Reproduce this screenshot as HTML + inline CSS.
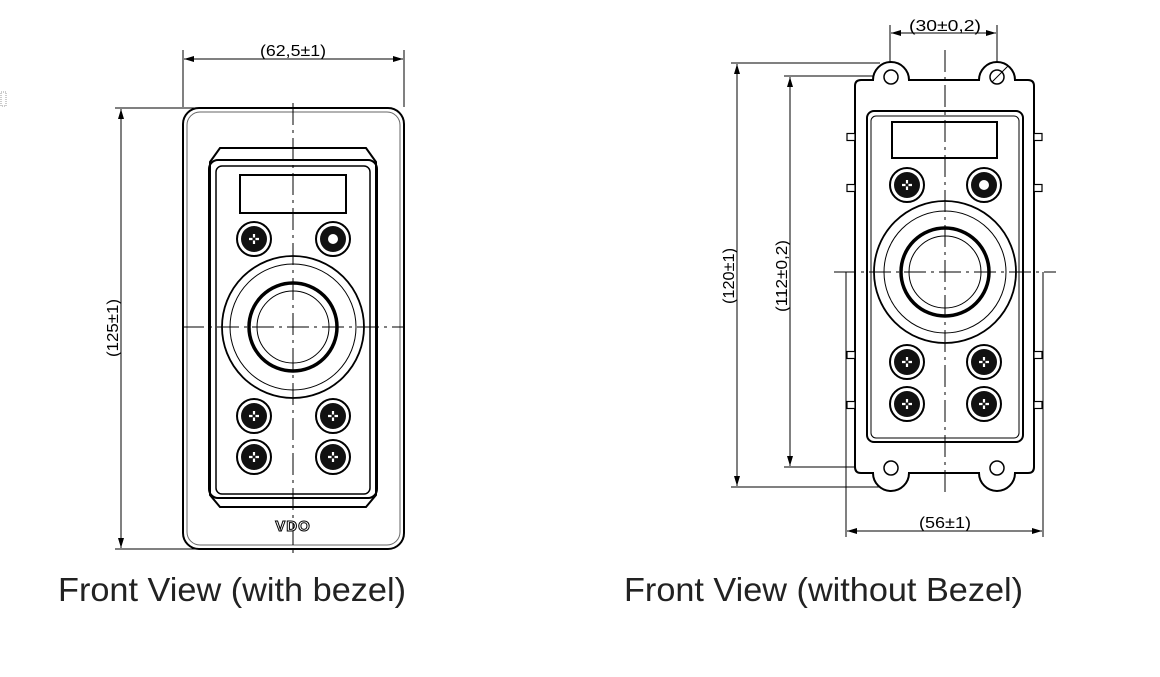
<!DOCTYPE html>
<html><head><meta charset="utf-8"><style>
html,body{margin:0;padding:0;background:#fff;}
svg{display:block}
text{font-family:"Liberation Sans",sans-serif;}
</style></head><body>
<svg width="1160" height="677" viewBox="0 0 1160 677" xmlns="http://www.w3.org/2000/svg">
<defs>
<marker id="a" viewBox="0 0 10 6" refX="10" refY="3" markerWidth="10" markerHeight="6" orient="auto-start-reverse" markerUnits="userSpaceOnUse"><path d="M0,0 L10,3 L0,6 z" fill="#000"/></marker>
<g id="btn"><circle r="17" fill="none" stroke="#000" stroke-width="2"/><circle r="13" fill="#111"/><path d="M-5,0h10M0,-5v10" stroke="#fff" stroke-width="2.2"/><path d="M-1.5,-1.5h3v3h-3z" fill="#111"/></g>
<g id="btnd"><circle r="17" fill="none" stroke="#000" stroke-width="2"/><circle r="13" fill="#111"/><circle r="5" fill="#fff"/></g>
<g id="tab"><rect x="0" y="-3.5" width="8" height="7" fill="#fff" stroke="#000" stroke-width="1.2"/></g>
</defs>
<rect x="1" y="92" width="5" height="14" fill="none" stroke="#999" stroke-width="1" stroke-dasharray="1,1"/>

<!-- LEFT -->
<g stroke="#000" fill="none">
<line x1="183" y1="50" x2="183" y2="107" stroke-width="1"/>
<line x1="404" y1="50" x2="404" y2="107" stroke-width="1"/>
<line x1="184" y1="59" x2="403" y2="59" stroke-width="1" marker-start="url(#a)" marker-end="url(#a)"/>
<line x1="115" y1="108" x2="200" y2="108" stroke-width="1"/>
<line x1="115" y1="549" x2="200" y2="549" stroke-width="1"/>
<line x1="121" y1="109" x2="121" y2="548" stroke-width="1" marker-start="url(#a)" marker-end="url(#a)"/>
<rect x="183" y="108" width="221" height="441" rx="16" stroke-width="2"/>
<rect x="187" y="112" width="213" height="433" rx="13" stroke-width="1" stroke="#666"/>
<path d="M220,148 L366,148 L376,162 L376,495 L366,507 L220,507 L210,495 L210,162 Z" stroke-width="2"/>
<rect x="209" y="160" width="168" height="338" rx="9" stroke-width="2"/>
<rect x="216" y="166" width="154" height="328" rx="6" stroke-width="1.5"/>
<rect x="240" y="175" width="106" height="38" stroke-width="2"/>
<circle cx="293" cy="327" r="71" stroke-width="1.8"/>
<circle cx="293" cy="327" r="63" stroke-width="1"/>
<circle cx="293" cy="327" r="44" stroke-width="3.5"/>
<circle cx="293" cy="327" r="36" stroke-width="1"/>
<line x1="293" y1="103" x2="293" y2="556" stroke-width="1" stroke-dasharray="22,5,3,5"/>
<line x1="182" y1="327" x2="405" y2="327" stroke-width="1" stroke-dasharray="22,5,3,5"/>
</g>
<use href="#btn" x="254" y="239"/><use href="#btnd" x="333" y="239"/>
<use href="#btn" x="254" y="416"/><use href="#btn" x="333" y="416"/>
<use href="#btn" x="254" y="457"/><use href="#btn" x="333" y="457"/>
<text x="293" y="531" text-anchor="middle" font-size="15" font-weight="bold" fill="#fff" stroke="#000" stroke-width="1" letter-spacing="1">VDO</text>
<text x="293" y="56" text-anchor="middle" font-size="16" textLength="66" lengthAdjust="spacingAndGlyphs">(62,5±1)</text>
<text transform="translate(118,328) rotate(-90)" text-anchor="middle" font-size="16" textLength="58" lengthAdjust="spacingAndGlyphs">(125±1)</text>

<!-- RIGHT -->
<g stroke="#000" fill="none">
<line x1="890" y1="25" x2="890" y2="485" stroke-width="1"/>
<line x1="997" y1="25" x2="997" y2="485" stroke-width="1"/>
<line x1="891" y1="33" x2="996" y2="33" stroke-width="1" marker-start="url(#a)" marker-end="url(#a)"/>
<line x1="731" y1="63" x2="880" y2="63" stroke-width="1"/>
<line x1="731" y1="487" x2="880" y2="487" stroke-width="1"/>
<line x1="737" y1="64" x2="737" y2="486" stroke-width="1" marker-start="url(#a)" marker-end="url(#a)"/>
<line x1="784" y1="76" x2="880" y2="76" stroke-width="1"/>
<line x1="784" y1="467" x2="880" y2="467" stroke-width="1"/>
<line x1="790" y1="77" x2="790" y2="466" stroke-width="1" marker-start="url(#a)" marker-end="url(#a)"/>
<line x1="846" y1="272" x2="846" y2="537" stroke-width="1"/>
<line x1="1043" y1="272" x2="1043" y2="537" stroke-width="1"/>
<line x1="847" y1="531" x2="1042" y2="531" stroke-width="1" marker-start="url(#a)" marker-end="url(#a)"/>
<path d="M873,80 A18,18 0 1 1 909,80 L979,80 A18,18 0 1 1 1015,80 L1028,80 Q1034,80 1034,86 L1034,467 Q1034,473 1028,473 L1015,473 A18,18 0 1 1 979,473 L909,473 A18,18 0 1 1 873,473 L861,473 Q855,473 855,467 L855,86 Q855,80 861,80 Z" fill="#fff" stroke-width="2"/>
<circle cx="891" cy="77" r="7" stroke-width="1.5"/>
<circle cx="997" cy="77" r="7" stroke-width="1.5"/>
<circle cx="891" cy="468" r="7" stroke-width="1.5"/>
<circle cx="997" cy="468" r="7" stroke-width="1.5"/>
<line x1="992" y1="82" x2="1008" y2="66" stroke-width="1"/>
<rect x="867" y="111" width="156" height="331" rx="7" stroke-width="2"/>
<rect x="871" y="116" width="148" height="322" rx="5" stroke-width="1"/>
<rect x="892" y="122" width="105" height="36" stroke-width="2"/>
<circle cx="945" cy="272" r="71" stroke-width="1.8"/>
<circle cx="945" cy="272" r="61" stroke-width="1"/>
<circle cx="945" cy="272" r="44" stroke-width="3.5"/>
<circle cx="945" cy="272" r="36" stroke-width="1"/>
<line x1="945" y1="50" x2="945" y2="494" stroke-width="1" stroke-dasharray="22,5,3,5"/>
<line x1="834" y1="272" x2="1056" y2="272" stroke-width="1" stroke-dasharray="22,5,3,5"/>
</g>
<use href="#tab" x="847" y="137"/><use href="#tab" x="847" y="188"/><use href="#tab" x="847" y="355"/><use href="#tab" x="847" y="405"/>
<use href="#tab" x="1034" y="137"/><use href="#tab" x="1034" y="188"/><use href="#tab" x="1034" y="355"/><use href="#tab" x="1034" y="405"/>
<use href="#btn" x="907" y="185"/><use href="#btnd" x="984" y="185"/>
<use href="#btn" x="907" y="362"/><use href="#btn" x="984" y="362"/>
<use href="#btn" x="907" y="404"/><use href="#btn" x="984" y="404"/>
<text x="945" y="31" text-anchor="middle" font-size="16" textLength="72" lengthAdjust="spacingAndGlyphs">(30±0,2)</text>
<text x="945" y="528" text-anchor="middle" font-size="16" textLength="52" lengthAdjust="spacingAndGlyphs">(56±1)</text>
<text transform="translate(734,276) rotate(-90)" text-anchor="middle" font-size="16" textLength="56" lengthAdjust="spacingAndGlyphs">(120±1)</text>
<text transform="translate(787,276) rotate(-90)" text-anchor="middle" font-size="16" textLength="72" lengthAdjust="spacingAndGlyphs">(112±0,2)</text>

<text x="58" y="601" font-size="33" fill="#222" textLength="348" lengthAdjust="spacingAndGlyphs">Front View (with bezel)</text>
<text x="624" y="601" font-size="33" fill="#222" textLength="399" lengthAdjust="spacingAndGlyphs">Front View (without Bezel)</text>
</svg>
</body></html>
